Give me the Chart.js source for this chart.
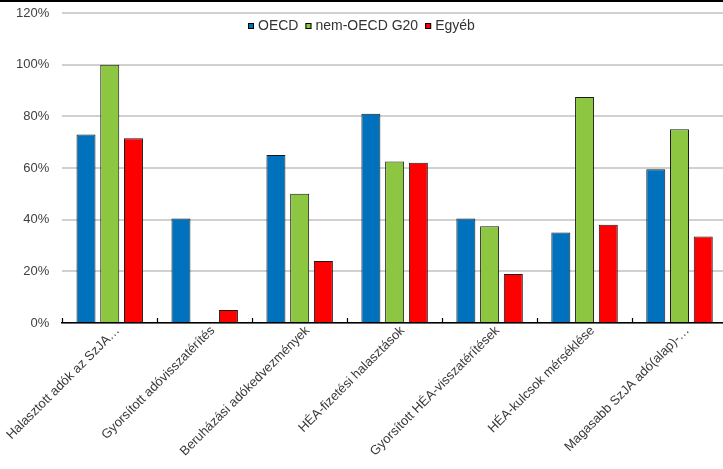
<!DOCTYPE html>
<html>
<head>
<meta charset="utf-8">
<script src="https://cdn.jsdelivr.net/npm/chart.js@4/dist/chart.umd.min.js"></script>
<style>
  html, body { margin: 0; padding: 0; background: #fff; overflow: hidden; }
  #wrap { position: relative; width: 723px; height: 469px; overflow: hidden; }
  #topline { position: absolute; top: 0; left: 0; width: 723px; height: 2px; background: #000; }
  canvas { position: absolute; top: 0; left: 0; }
</style>
</head>
<body>
<div id="wrap">
  <canvas id="chart" width="728" height="469"></canvas>
  <div id="topline"></div>
</div>
<script>
// Kategóriák
const categories = [
    "Halasztott adók az SzJA…",
    "Gyorsított adóvisszatérítés",
    "Beruházási adókedvezmények",
    "HÉA-fizetési halasztások",
    "Gyorsított HÉA-visszatérítések",
    "HÉA-kulcsok mérséklése",
    "Magasabb SzJA adó(alap)-…"
];

// Sorozatok (%)
const oecd     = [73, 40.5, 65, 81, 40.5, 35, 59.5];
const nonOecd  = [100, 0, 50, 62.5, 37.5, 87.5, 75];
const egyeb    = [71.5, 5, 24, 62, 19, 38, 33.5];

// Tengely
const yTicks = [0, 20, 40, 60, 80, 100, 120];

const FONT = "'Liberation Sans', Arial, sans-serif";

// ---- kis jelek a vízszintes tengelyen (felfelé) ----
const innerTicks = {
    id: "innerTicks",
    afterDatasetsDraw(chart) {
        const x = chart.scales.x;
        const ctx = chart.ctx;
        const n = chart.data.labels.length;
        const step = (x.right - x.left) / n;
        ctx.save();
        ctx.strokeStyle = "#000";
        ctx.lineWidth = 1.2;
        ctx.beginPath();
        for (let i = 0; i <= n; i++) {
            const px = Math.round(x.left + i * step) + 0.5;
            ctx.moveTo(px, x.top - 5);
            ctx.lineTo(px, x.top);
        }
        ctx.stroke();
        ctx.restore();
    }
};

// ---- jelmagyarázat a vászon tetején, középen ----
const topLegend = {
    id: "topLegend",
    afterDraw(chart) {
        const ctx = chart.ctx;
        const box = 6, gap = 4, between = 7;
        ctx.save();
        ctx.font = "14px " + FONT;
        ctx.textBaseline = "middle";
        const items = chart.data.datasets.map(d => ({
            text: d.label,
            color: d.backgroundColor,
            w: ctx.measureText(d.label).width
        }));
        const total = items.reduce((s, it) => s + box + gap + it.w, 0) + between * (items.length - 1);
        let x = Math.round(361 - total / 2);
        const y = 26;
        items.forEach(it => {
            ctx.fillStyle = it.color;
            ctx.fillRect(x, y - box / 2, box, box);
            ctx.strokeStyle = "#000";
            ctx.lineWidth = 1;
            ctx.strokeRect(x + 0.5, y - box / 2 + 0.5, box - 1, box - 1);
            ctx.fillStyle = "#333";
            ctx.fillText(it.text, x + box + gap, y);
            x += box + gap + it.w + between;
        });
        ctx.restore();
    }
};

new Chart(document.getElementById("chart"), {
    type: "bar",
    data: {
        labels: categories,
        datasets: [
            { label: "OECD", data: oecd, backgroundColor: "#0071BC" },
            { label: "nem-OECD G20", data: nonOecd, backgroundColor: "#8DC641" },
            { label: "Egyéb", data: egyeb, backgroundColor: "#FF0000" }
        ].map(d => Object.assign(d, {
            borderColor: "#1a1a1a",
            borderWidth: 1,
            categoryPercentage: 0.75,
            barPercentage: 0.8
        }))
    },
    options: {
        responsive: false,
        animation: false,
        layout: { padding: { left: 3, top: 13, right: 1, bottom: 0 } },
        plugins: {
            legend: { display: false },
            tooltip: { enabled: false }
        },
        scales: {
            x: {
                grid: { display: false, drawTicks: false },
                border: { display: true, color: "#000", width: 1.5 },
                afterFit(axis) {
                    axis.paddingLeft = 0;
                    axis.paddingRight = 0;
                    axis.height = 146;
                },
                ticks: {
                    font: { family: FONT, size: 13 },
                    color: "#3a3a3a",
                    maxRotation: 45,
                    minRotation: 45,
                    autoSkip: false,
                    padding: 0,
                    labelOffset: 8
                }
            },
            y: {
                min: 0,
                max: 120,
                afterBuildTicks(axis) {
                    axis.ticks = yTicks.map(v => ({ value: v }));
                },
                afterFit(axis) {
                    axis.paddingTop = 0;
                    axis.paddingBottom = 0;
                },
                grid: {
                    color: "#d0d0d0",
                    lineWidth: 2,
                    drawTicks: false
                },
                border: { display: false },
                ticks: {
                    font: { family: FONT, size: 13 },
                    color: "#404040",
                    padding: 13,
                    callback: v => v + "%"
                }
            }
        }
    },
    plugins: [innerTicks, topLegend]
});
</script>
</body>
</html>
